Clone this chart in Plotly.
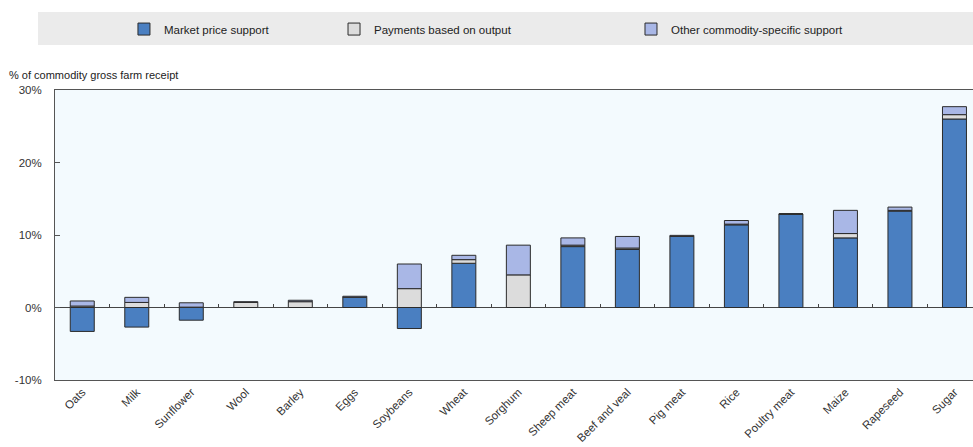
import plotly.graph_objects as go

categories = ["Oats", "Milk", "Sunflower", "Wool", "Barley", "Eggs", "Soybeans", "Wheat",
              "Sorghum", "Sheep meat", "Beef and veal", "Pig meat", "Rice", "Poultry meat",
              "Maize", "Rapeseed", "Sugar"]
market_price_support = [-3.3, -2.7, -1.75, 0.0, 0.0, 1.4, -2.9, 6.1,
                        0.0, 8.4, 8.0, 9.8, 11.4, 12.9, 9.6, 13.3, 26.0]
payments_output = [0.2, 0.7, 0.05, 0.7, 0.8, 0.0, 2.6, 0.5,
                   4.5, 0.2, 0.2, 0.0, 0.1, 0.0, 0.6, 0.1, 0.6]
other_support = [0.7, 0.7, 0.6, 0.1, 0.2, 0.15, 3.4, 0.6,
                 4.1, 1.0, 1.6, 0.15, 0.5, 0.0, 3.2, 0.45, 1.1]
y_tick_vals = [-10, 0, 10, 20, 30]
y_tick_text = ["-10%", "0%", "10%", "20%", "30%"]

FONT = "Liberation Sans Narrow, Arial Narrow, Liberation Sans, Arial, sans-serif"
OUTLINE = dict(color="#2b2b2b", width=1)

fig = go.Figure()
fig.add_trace(go.Bar(name="Market price support", x=categories, y=market_price_support,
                     marker=dict(color="#4a7fc1", line=OUTLINE), width=0.44, legend="legend"))
fig.add_trace(go.Bar(name="Payments based on output", x=categories, y=payments_output,
                     marker=dict(color="#dcdcdc", line=OUTLINE), width=0.44, legend="legend2"))
fig.add_trace(go.Bar(name="Other commodity-specific support", x=categories, y=other_support,
                     marker=dict(color="#a9b7e6", line=OUTLINE), width=0.44, legend="legend3"))
# invisible trace to carry category ticks on the zero line
fig.add_trace(go.Scatter(x=categories, y=[0] * len(categories), xaxis="x2", mode="markers",
                         marker=dict(opacity=0), hoverinfo="skip", showlegend=False))

legend_common = dict(orientation="h", xref="container", yref="container",
                     yanchor="middle", y=0.935, xanchor="left",
                     bgcolor="rgba(0,0,0,0)", font=dict(family=FONT, size=11.5, color="#222"),
                     itemwidth=30)
fig.update_layout(
    width=973, height=447,
    barmode="relative",
    paper_bgcolor="white",
    plot_bgcolor="#f3fafe",
    margin=dict(l=55, r=0, t=90, b=67, autoexpand=False),
    font=dict(family=FONT, size=11, color="#333"),
    legend=dict(x=0.1274, **legend_common),
    legend2=dict(x=0.3433, **legend_common),
    legend3=dict(x=0.6485, **legend_common),
    xaxis=dict(type="category", range=[-0.5, 16.34], showline=True, linecolor="#555",
               linewidth=1, mirror=True, ticks="", tickangle=-45, automargin=False,
               tickfont=dict(family=FONT, size=11.5, color="#333"), showgrid=False),
    xaxis2=dict(type="category", overlaying="x", anchor="free", position=0.25,
                matches="x", ticks="inside", tickson="boundaries", ticklen=4,
                tickcolor="#444", showticklabels=False, showline=False, showgrid=False,
                automargin=False),
    yaxis=dict(range=[-10, 30], tickvals=y_tick_vals, ticktext=y_tick_text,
               showline=True, linecolor="#555", linewidth=1, ticks="inside", ticklen=5,
               tickcolor="#555", showgrid=False, zeroline=True, zerolinecolor="#444",
               zerolinewidth=1, ticklabelstandoff=10, automargin=False,
               tickfont=dict(family=FONT, size=11.5, color="#333")),
    shapes=[dict(type="rect", xref="paper", yref="paper", x0=-0.0185, x1=1.0,
                 y0=1.155, y1=1.269, fillcolor="#ebebeb", line=dict(width=0), layer="below")],
    annotations=[dict(text="% of commodity gross farm receipt", xref="paper", yref="paper",
                      x=-0.0523, y=1.052, xanchor="left", yanchor="middle", showarrow=False,
                      font=dict(family=FONT, size=11, color="#222"))],
)

fig.write_html("out.html", config={"displayModeBar": False},
               post_script="document.body.style.margin='0';")
